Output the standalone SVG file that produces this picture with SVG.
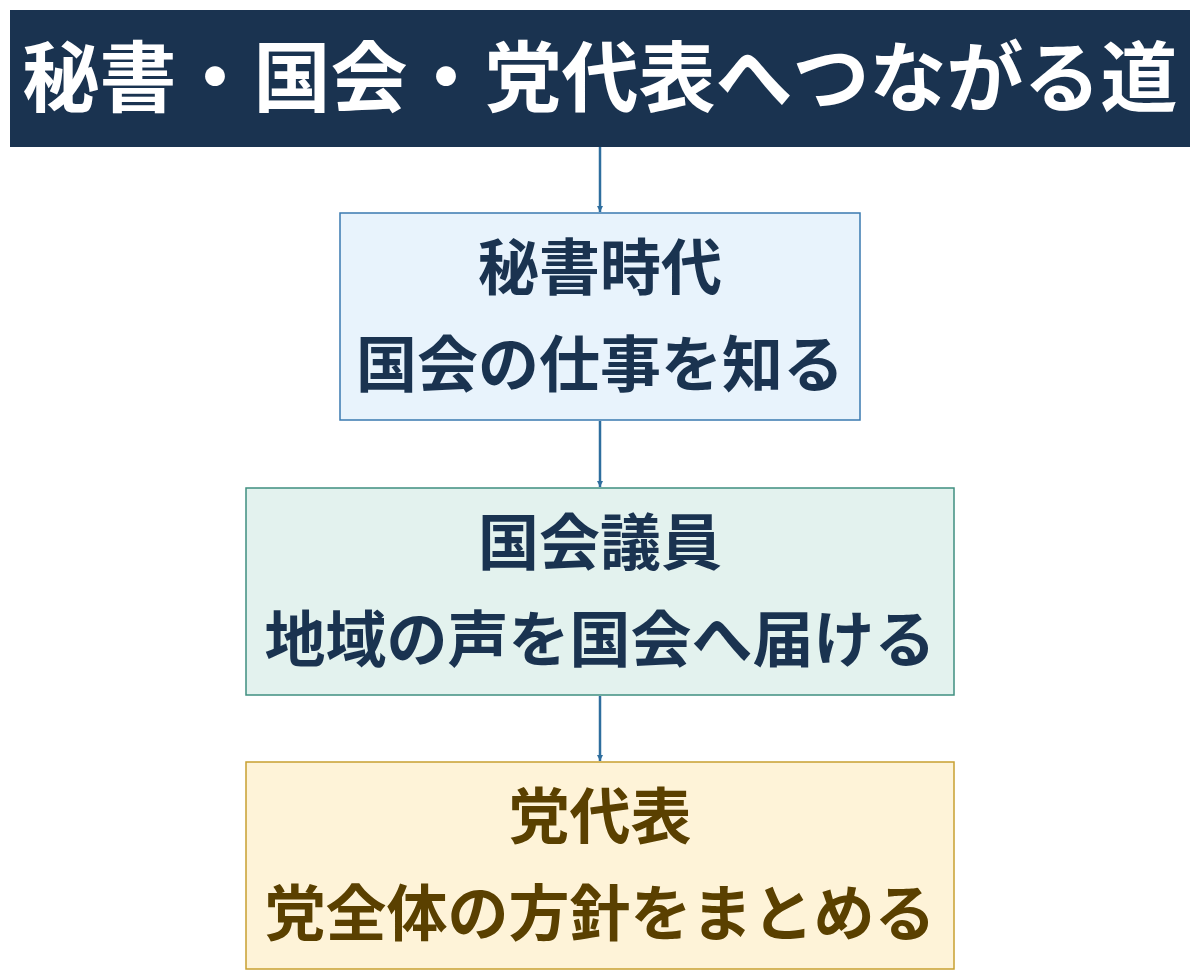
<svg xmlns="http://www.w3.org/2000/svg" width="1200" height="980" viewBox="0 0 1200 980">
<style>
text{font-family:"Noto Sans CJK JP","Noto Sans CJK SC",sans-serif;font-weight:700;text-anchor:middle}
.t{fill:#fff;font-size:77px}
.b{font-size:61px;fill:#1a3350}
.y{font-size:61px;fill:#5a4000}
.c{stroke:#2e6e9e;stroke-width:2.5;fill:none}
</style>
<defs><marker id="a" viewBox="0 0 10 10" refX="10" refY="5" markerWidth="6" markerHeight="6" markerUnits="userSpaceOnUse" orient="auto"><path d="M0,0L10,5L0,10z" fill="#2e6e9e"/></marker></defs>
<rect width="1200" height="980" fill="#fff"/>
<g id="title"><rect x="10" y="10" width="1180" height="137" fill="#1a3350"/><text class="t" x="600" y="106">秘書・国会・党代表へつながる道</text></g>
<g id="connectors">
<line class="c" x1="600" y1="147" x2="600" y2="212" marker-end="url(#a)"/>
<line class="c" x1="600" y1="421" x2="600" y2="487" marker-end="url(#a)"/>
<line class="c" x1="600" y1="696" x2="600" y2="761" marker-end="url(#a)"/>
</g>
<g id="n1"><rect x="340" y="213" width="520" height="207" fill="#e8f3fc" stroke="#3a7ab0" stroke-width="1.5"/><text class="b" x="600" y="290">秘書時代</text><text class="b" x="600" y="387">国会の仕事を知る</text></g>
<g id="n2"><rect x="246" y="488" width="708" height="207" fill="#e3f2ee" stroke="#3f8f80" stroke-width="1.5"/><text class="b" x="600" y="565">国会議員</text><text class="b" x="600" y="662">地域の声を国会へ届ける</text></g>
<g id="n3"><rect x="246" y="762" width="708" height="207" fill="#fef3d8" stroke="#c8a030" stroke-width="1.5"/><text class="y" x="600" y="839">党代表</text><text class="y" x="600" y="936">党全体の方針をまとめる</text></g>
</svg>
